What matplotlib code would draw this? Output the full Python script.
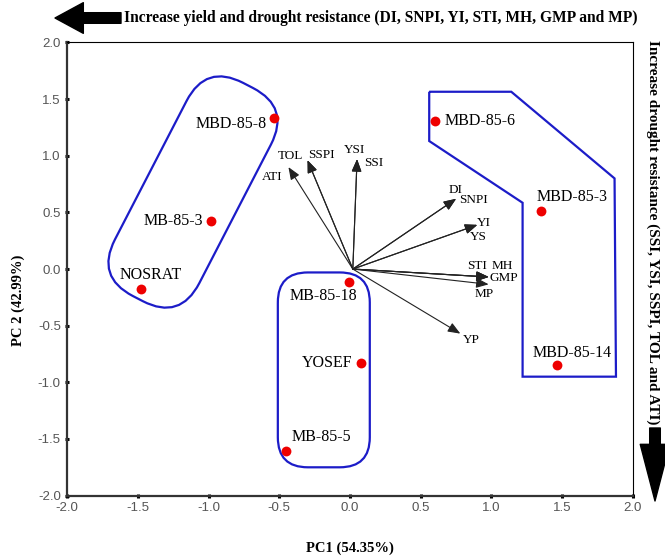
import numpy as np
import matplotlib
matplotlib.use('Agg')
from matplotlib import pyplot as plt
from matplotlib.path import Path
from matplotlib.patches import PathPatch

# genotype scores
genotypes = ['MBD-85-8', 'MB-85-3', 'NOSRAT', 'MB-85-18', 'YOSEF',
             'MB-85-5', 'MBD-85-6', 'MBD-85-3', 'MBD-85-14']
pc1 = [-0.54, -0.98, -1.48, -0.01, 0.08, -0.45, 0.60, 1.35, 1.46]
pc2 = [1.33, 0.42, -0.18, -0.11, -0.83, -1.61, 1.31, 0.51, -0.85]

# trait vectors
traits = ['ATI', 'TOL', 'SSPI', 'YSI', 'SSI', 'DI', 'SNPI', 'YI', 'YS',
          'STI', 'MH', 'GMP', 'MP', 'YP']
vec1 = [-0.435, -0.30, -0.30, 0.05, 0.05, 0.75, 0.75, 0.90, 0.90,
        0.98, 0.98, 0.98, 0.98, 0.78]
vec2 = [0.90, 0.96, 0.96, 0.97, 0.97, 0.62, 0.62, 0.39, 0.39,
        -0.07, -0.07, -0.07, -0.135, -0.57]

# right group outline (PC1, PC2)
grp3_x = [0.56, 1.14, 1.87, 1.88, 1.22, 1.22, 0.56]
grp3_y = [1.565, 1.565, 0.80, -0.95, -0.95, 0.585, 1.13]

# label offsets (layout only)
glab = {'MBD-85-8': (-0.05, -0.05, 'right'), 'MB-85-3': (-0.06, 0.0, 'right'),
        'NOSRAT': (0.07, 0.13, 'center'), 'MB-85-18': (-0.18, -0.13, 'center'),
        'YOSEF': (-0.06, 0.0, 'right'), 'MB-85-5': (0.04, 0.13, 'left'),
        'MBD-85-6': (0.07, 0.0, 'left'), 'MBD-85-3': (0.22, 0.13, 'center'),
        'MBD-85-14': (0.11, 0.11, 'center')}
tlab = {'ATI': (-0.115, -0.09), 'TOL': (-0.12, 0.04), 'SSPI': (0.10, 0.05),
        'YSI': (-0.02, 0.08), 'SSI': (0.115, -0.03), 'DI': (0.0, 0.08),
        'SNPI': (0.12, -0.01), 'YI': (0.05, 0.02), 'YS': (0.01, -0.11),
        'STI': (-0.085, 0.10), 'MH': (0.10, 0.10), 'GMP': (0.11, -0.01),
        'MP': (-0.03, -0.085), 'YP': (0.08, -0.06)}

SX, SY = 141.5, 113.3   # px per unit, to keep corners round on screen
blue = '#1c1cc8'
serif = 'Liberation Serif'


def round_path(px, py, r):
    # rounded polygon, built in pixel-like space then mapped back to data
    p = np.column_stack([np.array(px) * SX, np.array(py) * SY])
    n = len(p)
    verts, codes = [], []
    for i in range(n):
        a, b, c = p[i - 1], p[i], p[(i + 1) % n]
        u0 = (a - b) / np.linalg.norm(a - b)
        u1 = (c - b) / np.linalg.norm(c - b)
        s = b + u0 * r
        e = b + u1 * r
        if i == 0:
            verts.append(s); codes.append(Path.MOVETO)
        else:
            verts.append(s); codes.append(Path.LINETO)
        verts += [b, e]; codes += [Path.CURVE3, Path.CURVE3]
    verts.append(verts[0]); codes.append(Path.LINETO)
    v = np.array(verts)
    v[:, 0] /= SX
    v[:, 1] /= SY
    return Path(v, codes)


def capsule(cx, cy, dx, dy, L, W):
    d = np.array([dx, dy]) / np.hypot(dx, dy)
    nrm = np.array([d[1], -d[0]])
    c = np.array([cx * SX, cy * SY])
    pts = [c + d * L / 2 - nrm * W / 2, c + d * L / 2 + nrm * W / 2,
           c - d * L / 2 + nrm * W / 2, c - d * L / 2 - nrm * W / 2]
    return [q[0] / SX for q in pts], [q[1] / SY for q in pts]


fig = plt.figure(figsize=(6.65, 5.56), dpi=100)
ax = fig.add_axes([0.1008, 0.1086, 0.851, 0.815])

# groups
cx, cy = capsule(-1.11, 0.68, 0.46, 0.89, 240, 95)
ax.add_patch(PathPatch(round_path(cx, cy, 42), fill=False, ec=blue, lw=1.6))
ax.add_patch(PathPatch(round_path([-0.51, 0.14, 0.14, -0.51], [-0.03, -0.03, -1.75, -1.75], 30),
                       fill=False, ec=blue, lw=1.6))
ax.add_patch(PathPatch(Path(np.column_stack([grp3_x + grp3_x[:1], grp3_y + grp3_y[:1]])),
                       fill=False, ec=blue, lw=1.6))

# trait vectors
for t, a, b in zip(traits, vec1, vec2):
    ax.annotate('', xy=(a, b), xytext=(0.02, 0.0),
                arrowprops=dict(arrowstyle='-|>,head_length=0.75,head_width=0.3',
                                color='#222222', lw=0.8, shrinkA=0, shrinkB=0))
    ox, oy = tlab[t]
    ax.text(a + ox, b + oy, t, family=serif, fontsize=9.5, ha='center', va='center')

# genotypes
ax.scatter(pc1, pc2, s=50, color='#ee0000', zorder=5, linewidths=0)
for g, a, b in zip(genotypes, pc1, pc2):
    ox, oy, ha = glab[g]
    ax.text(a + ox, b + oy, g, family=serif, fontsize=11.5, ha=ha, va='center')

ax.set_xlim(-2, 2)
ax.set_ylim(-2, 2)
tk = np.arange(-2, 2.01, 0.5)
ax.set_xticks(tk)
ax.set_yticks(tk)
ax.set_xticklabels(['%.1f' % v for v in tk])
ax.set_yticklabels(['%.1f' % v for v in tk])
ax.tick_params(direction='inout', length=3, width=2.2, color='k', labelcolor='#555555',
               labelsize=9.5, pad=3)
for lab in ax.get_xticklabels() + ax.get_yticklabels():
    lab.set_family('Liberation Sans')
for s in ['left', 'bottom']:
    ax.spines[s].set_linewidth(1.6)
    ax.spines[s].set_color('#333333')
for s in ['top', 'right']:
    ax.spines[s].set_linewidth(0.8)

ax.set_xlabel('PC1 (54.35%)', family=serif, fontweight='bold', fontsize=10.5, labelpad=20)
ax.set_ylabel('PC 2 (42.99%)', family=serif, fontweight='bold', fontsize=10.5)
ax.yaxis.set_label_coords(-0.074, 0.43)

# direction arrows
fig.text(124 / 665, 1 - 18 / 556, 'Increase yield and drought resistance (DI, SNPI, YI, STI, MH, GMP and MP)',
         family=serif, fontweight='bold', fontsize=11.2, ha='left', va='center')
ax.annotate('', xy=(55, 538), xytext=(121, 538), xycoords='figure pixels',
            arrowprops=dict(arrowstyle='simple,head_length=1.2,head_width=1.3,tail_width=0.45',
                            color='k', mutation_scale=17, shrinkA=0, shrinkB=0))
fig.text(653 / 665, 1 - 40 / 556, 'Increase drought resistance (SSI, YSI, SSPI, TOL and ATI)',
         family=serif, fontweight='bold', fontsize=11.0, rotation=-90, ha='center', va='top')
ax.annotate('', xy=(655, 55), xytext=(655, 128), xycoords='figure pixels',
            arrowprops=dict(arrowstyle='simple,head_length=2.4,head_width=1.25,tail_width=0.45',
                            color='k', mutation_scale=17, shrinkA=0, shrinkB=0))

fig.savefig('out.png', dpi=100)
